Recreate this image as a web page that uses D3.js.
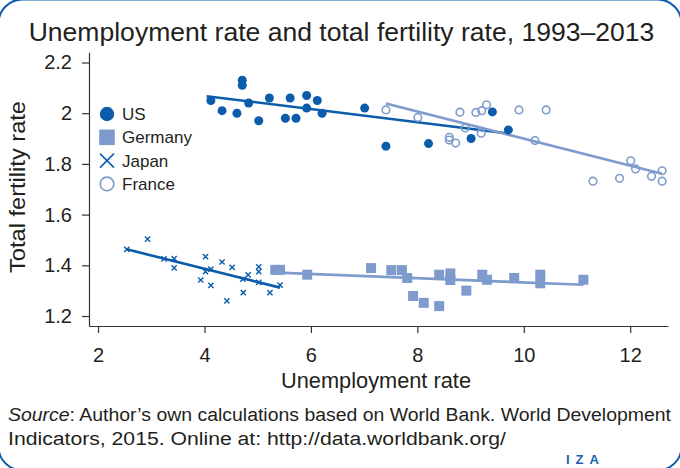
<!DOCTYPE html>
<html><head><meta charset="utf-8">
<script src="https://cdn.jsdelivr.net/npm/d3@7/dist/d3.min.js"></script>
<style>
body{margin:0;background:#fff}
svg{display:block}
text{font-family:"Liberation Sans",Arial,sans-serif;fill:#231f20}
</style>
</head><body>
<svg id="c" width="680" height="468"></svg>
<script>
// ---- data ----
const usX = [4.12,4.33,4.61,4.71,4.71,4.83,5.02,5.22,5.52,5.72,5.61,5.92,5.92,6.12,6.21,7.01,7.41,8.21,9.01,9.41,9.71];
const usY = [2.05,2.01,2.00,2.13,2.11,2.04,1.97,2.06,1.98,1.98,2.06,2.07,2.02,2.05,2.00,2.02,1.87,1.88,1.90,2.005,1.934];
const deX = [5.33,5.42,5.93,7.13,7.51,7.71,7.81,7.92,8.12,8.41,8.41,8.62,8.62,8.92,9.22,9.31,9.82,10.31,10.31,11.12];
const deY = [1.382,1.382,1.363,1.389,1.381,1.381,1.350,1.279,1.252,1.239,1.363,1.368,1.342,1.300,1.363,1.343,1.350,1.363,1.329,1.343];
const jpX = [2.54,2.93,3.24,3.43,3.43,4.02,4.02,4.12,3.93,4.12,4.33,4.52,4.42,4.72,4.82,4.73,5.02,5.02,5.02,5.23,5.42];
const jpY = [1.463,1.503,1.425,1.426,1.390,1.434,1.375,1.385,1.342,1.321,1.413,1.392,1.260,1.345,1.362,1.292,1.394,1.375,1.333,1.292,1.322];
const frX = [7.41,8.01,8.80,8.60,8.60,8.72,8.90,9.10,9.21,9.30,9.20,9.91,10.21,10.42,11.30,11.80,12.01,12.10,12.40,12.60,12.60];
const frY = [2.013,1.983,2.004,1.905,1.894,1.882,1.942,2.003,2.010,2.033,1.921,2.013,1.892,2.013,1.732,1.743,1.812,1.780,1.751,1.773,1.732];
// fitted lines (endpoints)
const usFitX = [4.04,9.71], usFitY = [2.067,1.920];
const deFitX = [5.37,11.12], deFitY = [1.371,1.323];
const jpFitX = [2.54,5.42], jpFitY = [1.463,1.312];
const frFitX = [7.41,12.60], frFitY = [2.038,1.761];
const xTicks = [2,4,6,8,10,12];
const yTicks = [1.2,1.4,1.6,1.8,2.0,2.2];
const legendLabels = ["US","Germany","Japan","France"];

const DARK = "#0b5cab", LIGHT = "#7f9bcd";
const svg = d3.select("#c");

// frame
svg.append("rect").attr("x",-1.5).attr("y",-0.6).attr("width",683).attr("height",471)
  .attr("rx",24).attr("fill","none").attr("stroke",DARK).attr("stroke-width",2);

const x = d3.scaleLinear().domain([1.83,12.71]).range([89,668]);
const y = d3.scaleLinear().domain([1.16,2.24]).range([326.15,52.35]);

function fit(sel, w){ sel.attr("textLength",w).attr("lengthAdjust","spacingAndGlyphs"); return sel; }

// title: font size chosen so the natural width matches the reference width
const title = svg.append("text").attr("x",341.5).attr("y",41).attr("text-anchor","middle")
  .style("font-size","28px").text("Unemployment rate and total fertility rate, 1993\u20132013");
const tw = title.node().getComputedTextLength();
title.style("font-size", (28*626/tw).toFixed(2)+"px");

// axes
const ax = svg.append("g").attr("transform","translate(0,326)")
  .call(d3.axisBottom(x).tickValues(xTicks).tickSize(7).tickSizeOuter(0).tickPadding(15).tickFormat(d3.format("d")));
const ay = svg.append("g").attr("transform","translate(89,0)")
  .call(d3.axisLeft(y).tickValues(yTicks).tickSize(7).tickSizeOuter(0).tickPadding(10)
    .tickFormat(d => d === 2 ? "2" : d3.format(".1f")(d)));
[ax,ay].forEach(g=>{
  g.select(".domain").attr("stroke","#333").attr("stroke-width",1.2);
  g.selectAll(".tick line").attr("stroke","#333").attr("stroke-width",1.2);
  g.selectAll(".tick text").attr("fill","#231f20").style("font-size","20px").style("font-family",'"Liberation Sans",Arial,sans-serif');
});

// axis titles
fit(svg.append("text").attr("x",376).attr("y",388).attr("text-anchor","middle")
  .style("font-size","22px").text("Unemployment rate"), 190);
fit(svg.append("text").attr("transform","translate(25,187) rotate(-90)").attr("text-anchor","middle")
  .style("font-size","22px").text("Total fertility rate"), 172);

// fit lines
const line = d3.line().x(d=>x(d[0])).y(d=>y(d[1]));
const fits = [[usFitX,usFitY,DARK],[jpFitX,jpFitY,DARK],[deFitX,deFitY,LIGHT],[frFitX,frFitY,LIGHT]];
fits.forEach(([fx,fy,col])=>{
  svg.append("path").datum(fx.map((v,i)=>[v,fy[i]])).attr("d",line)
    .attr("fill","none").attr("stroke",col).attr("stroke-width",2.6);
});

// markers
const zip = (a,b)=>a.map((v,i)=>[v,b[i]]);
svg.append("g").selectAll("rect").data(zip(deX,deY)).join("rect")
  .attr("x",d=>x(d[0])-5).attr("y",d=>y(d[1])-5).attr("width",10).attr("height",10).attr("fill",LIGHT);
svg.append("g").selectAll("circle").data(zip(frX,frY)).join("circle")
  .attr("cx",d=>x(d[0])).attr("cy",d=>y(d[1])).attr("r",3.8).attr("fill","none").attr("stroke",LIGHT).attr("stroke-width",1.6);
svg.append("g").selectAll("path").data(zip(jpX,jpY)).join("path")
  .attr("transform",d=>`translate(${x(d[0])},${y(d[1])})`).attr("d","M-2.6,-2.6L2.6,2.6M-2.6,2.6L2.6,-2.6")
  .attr("stroke",DARK).attr("stroke-width",1.4).attr("fill","none");
svg.append("g").selectAll("circle").data(zip(usX,usY)).join("circle")
  .attr("cx",d=>x(d[0])).attr("cy",d=>y(d[1])).attr("r",4.5).attr("fill",DARK);

// legend
const lg = svg.append("g").attr("transform","translate(107,114)");
const step = 23.3;
lg.append("circle").attr("cx",0).attr("cy",0).attr("r",7.2).attr("fill",DARK);
lg.append("rect").attr("x",-7.8).attr("y",step-7.8).attr("width",15.6).attr("height",15.6).attr("fill",LIGHT);
lg.append("path").attr("transform",`translate(0,${2*step})`).attr("d","M-7,-7L7,7M-7,7L7,-7").attr("stroke",DARK).attr("stroke-width",1.5);
lg.append("circle").attr("cx",0).attr("cy",3*step).attr("r",6.8).attr("fill","none").attr("stroke",LIGHT).attr("stroke-width",1.6);
legendLabels.forEach((t,i)=>{
  lg.append("text").attr("x",15).attr("y",i*step).attr("dy","0.36em").style("font-size","17px").text(t);
});

// source
const s1 = svg.append("text").attr("x",8).attr("y",421).style("font-size","18px");
s1.append("tspan").style("font-style","italic").text("Source");
s1.append("tspan").text(": Author\u2019s own calculations based on World Bank. World Development");
fit(s1, 663);
fit(svg.append("text").attr("x",8).attr("y",445).style("font-size","18px")
  .text("Indicators, 2015. Online at: http://data.worldbank.org/"), 498);

// IZA mark
svg.append("text").attr("x",566).attr("y",464).style("font-size","13px").style("font-weight","bold")
  .style("letter-spacing","6px").style("fill","#1a5fb0").text("IZA");
</script>
</body></html>
